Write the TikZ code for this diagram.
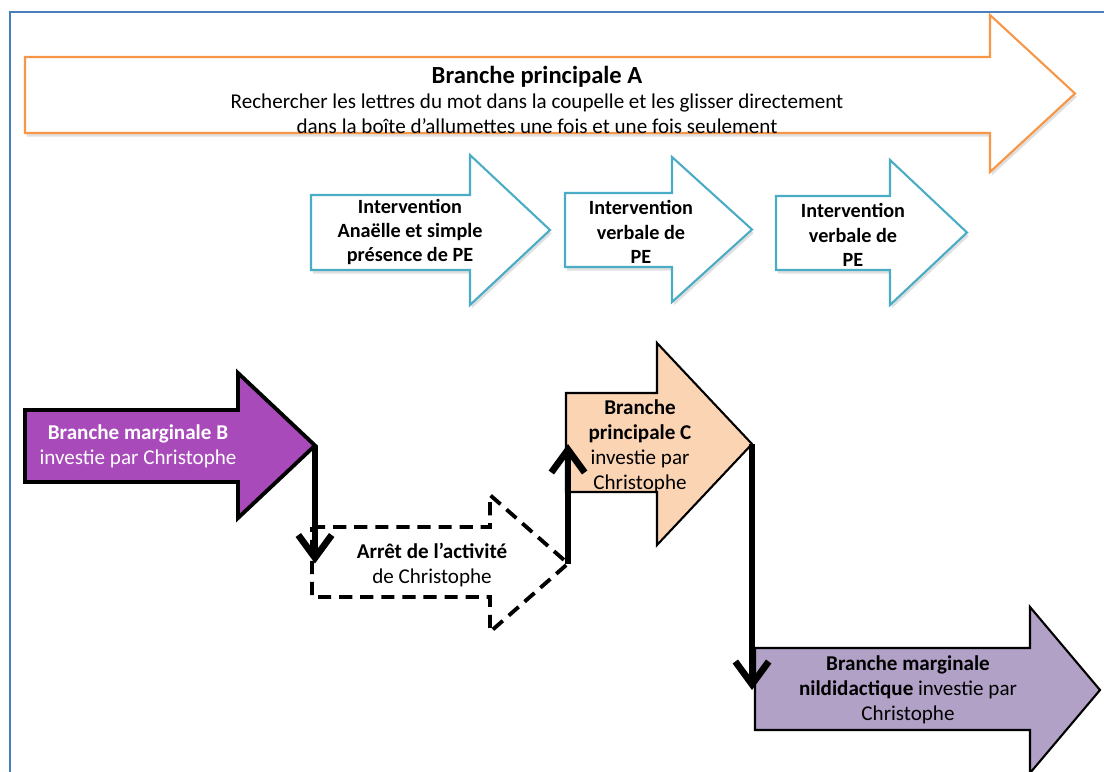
\documentclass[tikz,border=0pt]{standalone}
\usepackage{fontspec}
\setmainfont{Carlito}
\usetikzlibrary{arrows.meta, positioning, shadows}

\definecolor{frameblue}{HTML}{4A7EBB}
\definecolor{orangeA}{HTML}{F79646}
\definecolor{tealPE}{HTML}{4BACC6}
\definecolor{purpleB}{HTML}{A94ABB}
\definecolor{peachC}{HTML}{FBD4B4}
\definecolor{lilacD}{HTML}{B2A1C7}

% block arrow: style, name, left x, body top, body bottom, head x, head top, head bottom, tip x
\newcommand{\blockarrow}[9]{%
  \draw[#1] (#3,#4) -- (#6,#4) -- (#6,#7) -- (#9,{(#7+#8)/2}) -- (#6,#8) -- (#6,#5) -- (#3,#5) -- cycle;
  \coordinate (#2-tip) at (#9,{(#7+#8)/2});
}

\begin{document}
\begin{tikzpicture}[
  x=0.02cm, y=-0.02cm,
  softshadow/.style={drop shadow={shadow xshift=1pt, shadow yshift=-2pt, opacity=0.2, fill=black!60}},
  outA/.style={draw=orangeA, line width=1.2pt, fill=white, line join=miter, softshadow},
  outPE/.style={draw=tealPE, line width=1.2pt, fill=white, softshadow},
  outB/.style={draw=black, line width=2.2pt, fill=purpleB},
  outstop/.style={draw=black, line width=2.2pt, dash pattern=on 7.5pt off 4.5pt, fill=white},
  outC/.style={draw=black, line width=1.2pt, fill=peachC},
  outD/.style={draw=black, line width=1.2pt, fill=lilacD},
  txt/.style={align=center, inner sep=0pt, font=\fontsize{12}{14.2}\selectfont},
  conn/.style={line width=3.8pt, -{Straight Barb[length=13pt, width=19pt]}}
]
\useasboundingbox (0,0) rectangle (1104,771);
\draw[frameblue, line width=1pt] (10,800) -- (10,12) -- (1120,12);

\blockarrow{outA}{brA}{25}{57}{133}{990}{15}{172}{1075}
\node[txt] (textA) at (537,100) {{\fontsize{14}{16}\selectfont\bfseries Branche principale A}\\Rechercher les lettres du mot dans la coupelle et les glisser directement\\dans la boîte d’allumettes une fois et une fois seulement};

\blockarrow{outPE}{pe1}{311}{195}{270}{470}{155}{305}{550}
\blockarrow{outPE}{pe2}{565}{193}{267}{672}{157}{302}{752}
\blockarrow{outPE}{pe3}{776}{196}{270}{890}{160}{305}{967}
\node[txt, font=\fontsize{11.5}{13.8}\selectfont\bfseries] (textPE1) at (410,232) {Intervention\\Anaëlle et simple\\présence de PE};
\node[txt, font=\fontsize{11.5}{13.8}\selectfont\bfseries] (textPE2) at (641,232) {Intervention\\verbale de\\PE};
\node[txt, font=\fontsize{11.5}{13.8}\selectfont\bfseries] (textPE3) at (853,235) {Intervention\\verbale de\\PE};

\blockarrow{outB}{brB}{25}{410}{482}{238}{373}{518}{315}
\node[txt, text=white] (textB) at (138,446) {\textbf{Branche marginale B}\\investie par Christophe};

\blockarrow{outstop}{arret}{312}{527}{597}{490}{495}{632}{568}
\node[txt] (textarret) at (432,565) {\textbf{Arrêt de l’activité}\\de Christophe};

\blockarrow{outC}{brC}{566}{393}{492}{657}{343}{545}{752}
\node[txt] (textC) at (640,446) {\textbf{Branche}\\\textbf{principale C}\\investie par\\Christophe};

\blockarrow{outD}{brD}{755}{648}{730}{1030}{607}{773}{1100}
\node[txt] (textD) at (908,690) {\textbf{Branche marginale}\\\textbf{nildidactique} investie par\\Christophe};

\draw[conn] (brB-tip) -- (brB-tip |- arret-tip);
\draw[conn] (arret-tip) -- (arret-tip |- brC-tip);
\draw[conn] (brC-tip) -- (brC-tip |- brD-tip);
\end{tikzpicture}
\end{document}
